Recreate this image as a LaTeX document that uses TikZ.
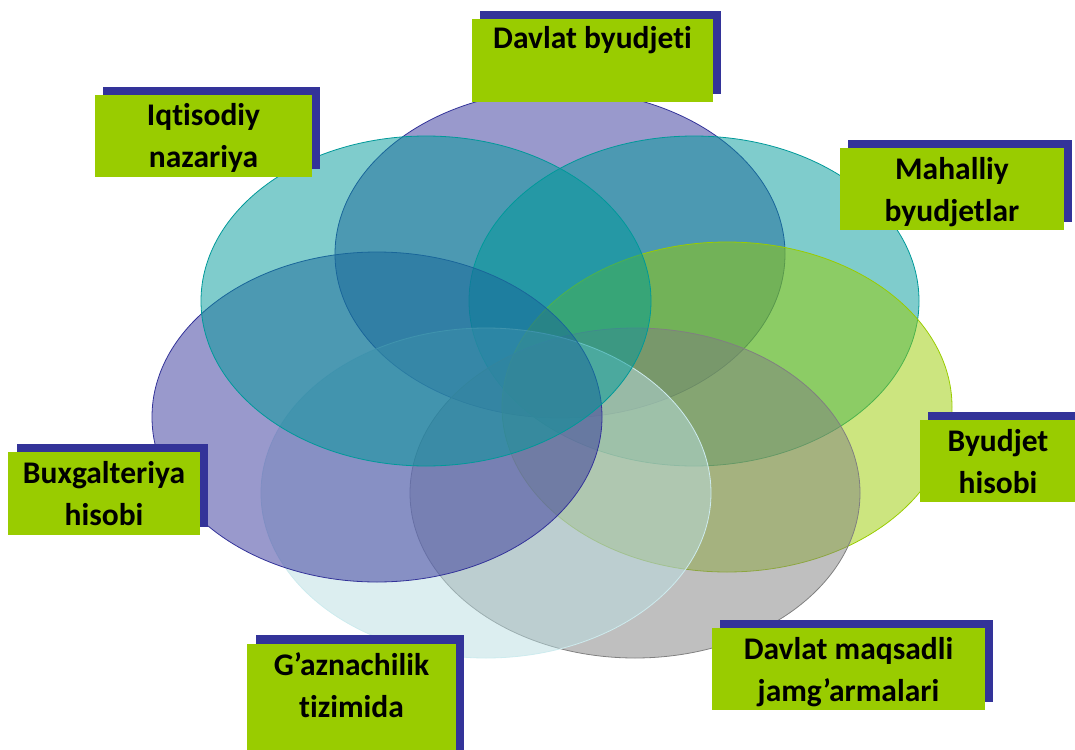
\documentclass[tikz,border=0pt]{standalone}
\usepackage{fontspec}
\setmainfont{Carlito}[Ligatures={NoCommon,NoRare,NoContextual}]
\definecolor{sblue}{HTML}{333399}
\definecolor{bgreen}{HTML}{99CC00}
\definecolor{pteal}{HTML}{009999}
\definecolor{pgray}{HTML}{808080}
\definecolor{pcyan}{HTML}{B9DDE1}
\definecolor{pcyanedge}{HTML}{CDEBEE}
\begin{document}
\begin{tikzpicture}[x=1pt,y=-1pt,
  petal/.style={line width=0.8pt, fill opacity=0.5},
  shadowbox/.style={fill=sblue, draw=none},
  greenbox/.style={fill=bgreen, draw=none, inner sep=0pt, anchor=north west},
  lbl/.style={font=\fontsize{31.5}{42}\selectfont\bfseries, inner sep=0pt, anchor=base}]
\useasboundingbox (0,0) rectangle (1075,749);
% petals (drawing order matters for overlap colours)
\path[petal, fill=sblue, draw=sblue] (560,254) ellipse [x radius=225pt, y radius=164pt];
\path[petal, fill=pteal, draw=pteal] (694,301) ellipse [x radius=225pt, y radius=165pt];
\path[petal, fill=bgreen, draw=bgreen] (727,407) ellipse [x radius=225pt, y radius=165pt];
\path[petal, fill=pgray, draw=pgray] (635,493) ellipse [x radius=225pt, y radius=165pt];
\path[petal, fill=pcyan, draw=pcyanedge] (486,493) ellipse [x radius=225pt, y radius=165pt];
\path[petal, fill=sblue, draw=sblue] (377,417) ellipse [x radius=225pt, y radius=165pt];
\path[petal, fill=pteal, draw=pteal] (426,301) ellipse [x radius=225pt, y radius=165pt];
% Davlat byudjeti
\fill[shadowbox] (480,11) rectangle (721,94);
\node[greenbox, minimum width=241pt, minimum height=83pt] (bdb) at (472,19) {};
\node[lbl] (tdb1) at (592.5,49) {Davlat byudjeti};
% Iqtisodiy nazariya
\fill[shadowbox] (103,87) rectangle (320,169);
\node[greenbox, minimum width=217pt, minimum height=82pt] (biq) at (95,95) {};
\node[lbl] (tiq1) at (203.5,125) {Iqtisodiy};
\node[lbl] (tiq2) at (203.5,167) {nazariya};
% Mahalliy byudjetlar
\fill[shadowbox] (848,140) rectangle (1072,222);
\node[greenbox, minimum width=224pt, minimum height=82pt] (bmb) at (840,148) {};
\node[lbl] (tmb1) at (952,179) {Mahalliy};
\node[lbl] (tmb2) at (952,221) {byudjetlar};
% Byudjet hisobi
\fill[shadowbox] (928,412) rectangle (1084,494);
\node[greenbox, minimum width=156pt, minimum height=82pt] (bbh) at (920,420) {};
\node[lbl] (tbh1) at (998,451) {Byudjet};
\node[lbl] (tbh2) at (998,493) {hisobi};
% Buxgalteriya hisobi
\fill[shadowbox] (17,444) rectangle (208,527);
\node[greenbox, minimum width=192pt, minimum height=83pt] (bbx) at (8,452) {};
\node[lbl] (tbx1) at (104,483) {Buxgalteriya};
\node[lbl] (tbx2) at (104,525) {hisobi};
% G'aznachilik tizimida
\fill[shadowbox] (256,635) rectangle (464,760);
\node[greenbox, minimum width=209pt, minimum height=120pt] (bgz) at (247,644) {};
\node[lbl] (tgz1) at (351.5,675) {G’aznachilik};
\node[lbl] (tgz2) at (351.5,717) {tizimida};
% Davlat maqsadli jamg'armalari
\fill[shadowbox] (720,620) rectangle (993,702);
\node[greenbox, minimum width=273pt, minimum height=82pt] (bdm) at (712,628) {};
\node[lbl] (tdm1) at (848.5,659) {Davlat maqsadli};
\node[lbl] (tdm2) at (848.5,701) {jamg’armalari};
\end{tikzpicture}
\end{document}
